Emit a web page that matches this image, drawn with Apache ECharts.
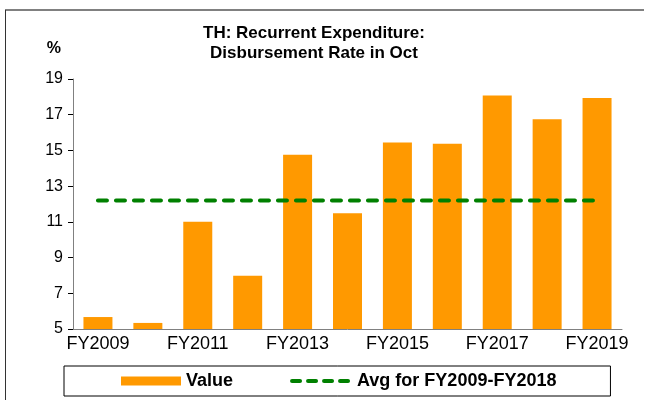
<!DOCTYPE html>
<html>
<head>
<meta charset="utf-8">
<script src="https://cdn.jsdelivr.net/npm/echarts@6/dist/echarts.min.js"></script>
<style>
  html, body { margin: 0; padding: 0; background: #fff; }
  #chart { width: 649px; height: 400px; }
</style>
</head>
<body>
<div id="chart"></div>
<script>
// fiscal years on the x axis
var years = ['FY2009', 'FY2010', 'FY2011', 'FY2012', 'FY2013', 'FY2014',
             'FY2015', 'FY2016', 'FY2017', 'FY2018', 'FY2019'];
// disbursement rate in October, %
var rates = [5.67, 5.34, 11.0, 7.98, 14.76, 11.48, 15.45, 15.38, 18.07, 16.74, 17.93];
// average FY2009-FY2018
var avgRate = [12.19, 12.19, 12.19, 12.19, 12.19, 12.19, 12.19, 12.19, 12.19, 12.19, 12.19];

var font = 'Liberation Sans, Arial, sans-serif';
var chart = echarts.init(document.getElementById('chart'));

chart.setOption({
  animation: false,
  legend: {
    left: 64,
    top: 366,
    padding: [6, 54, 6, 57],
    borderColor: '#000',
    borderWidth: 1,
    itemGap: 57,
    itemWidth: 60,
    itemHeight: 9,
    textStyle: { fontFamily: font, fontSize: 18, fontWeight: 'bold', color: '#000' },
    data: [
      { name: 'Value', icon: 'rect' },
      // hide the marker dot, keep the dashed line
      {
        name: 'Avg for FY2009-FY2018',
        itemStyle: { opacity: 0 },
        lineStyle: { width: 4, type: [8, 8], cap: 'round', color: '#008000' }
      }
    ]
  },
  grid: { left: 73, right: 27, top: 79, bottom: 71 },
  xAxis: {
    type: 'category',
    data: years,
    axisLine: { lineStyle: { color: '#808080', width: 1 } },
    axisTick: { length: 5, lineStyle: { color: '#000' } },
    axisLabel: {
      interval: 1,
      color: '#000',
      fontFamily: font,
      fontSize: 18,
      margin: 6
    }
  },
  yAxis: {
    type: 'value',
    min: 5,
    max: 19,
    interval: 2,
    name: '%',
    nameLocation: 'end',
    nameGap: 22,
    nameTextStyle: { fontFamily: font, fontSize: 16, fontWeight: 'bold', color: '#000', align: 'right', padding: [0, 12, 0, 0] },
    splitLine: { show: false },
    axisLine: { show: true, lineStyle: { color: '#808080', width: 1 } },
    axisTick: { show: true, length: 5, lineStyle: { color: '#000' } },
    axisLabel: { color: '#000', fontFamily: font, fontSize: 16, margin: 10 }
  },
  series: [
    {
      name: 'Value',
      type: 'bar',
      data: rates,
      barWidth: 29,
      itemStyle: { color: '#FF9900' }
    },
    {
      name: 'Avg for FY2009-FY2018',
      type: 'line',
      data: avgRate,
      symbol: 'none',
      itemStyle: { color: '#008000' },
      lineStyle: { color: '#008000', width: 4, type: [9, 9], cap: 'round' }
    }
  ],
  graphic: [
    {
      type: 'text',
      x: 314,
      y: 23,
      style: {
        text: 'TH: Recurrent Expenditure:\nDisbursement Rate in Oct',
        fontFamily: font,
        fontSize: 17,
        fontWeight: 'bold',
        lineHeight: 20,
        fill: '#000',
        align: 'center',
        verticalAlign: 'top'
      }
    },
    { type: 'line', shape: { x1: 5, y1: 10, x2: 644, y2: 10 }, style: { stroke: '#808080', lineWidth: 2 } },
    { type: 'line', shape: { x1: 5.5, y1: 10, x2: 5.5, y2: 400 }, style: { stroke: '#333', lineWidth: 1 } }
  ]
});
</script>
</body>
</html>
